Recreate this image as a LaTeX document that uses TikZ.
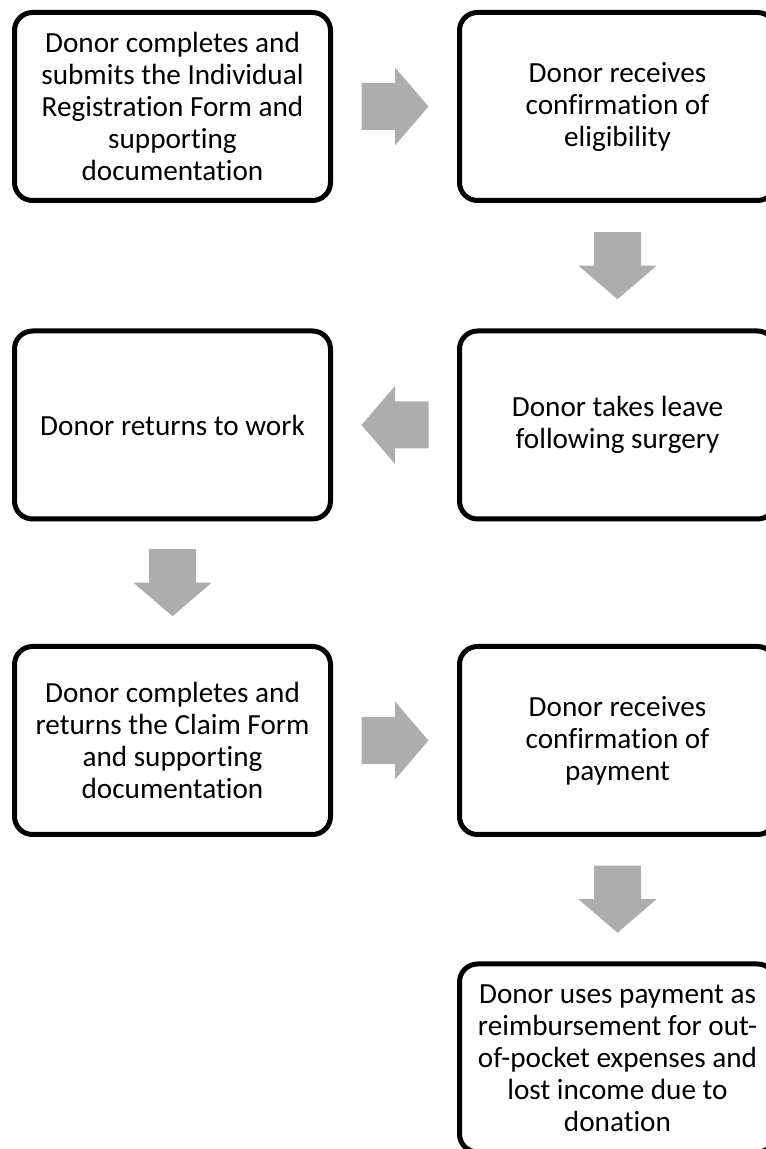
\documentclass[tikz,border=0pt]{standalone}
\usepackage{fontspec}
\setmainfont{Carlito}[Ligatures=NoCommon]
\usetikzlibrary{calc}

\definecolor{arrowgray}{RGB}{173,173,173}

\tikzset{
  stepbox/.style={draw=black, line width=5pt, rounded corners=18pt,
    minimum width=316pt, minimum height=188pt, inner sep=0pt,
    align=center, font=\fontsize{29.2}{32}\selectfont},
  pics/blockarrow/.style={code={
    \fill[arrowgray] (-33.5,-23.5) -- (0,-23.5) -- (0,-39) -- (33.5,0)
      -- (0,39) -- (0,23.5) -- (-33.5,23.5) -- cycle;}}
}

\begin{document}
\begin{tikzpicture}[x=1pt, y=1pt]

\clip (0,0) rectangle (766,1149);

% Steps
\node[stepbox] (register) at (172.5,1042.5)
  {Donor completes and\\submits the Individual\\Registration Form and\\supporting\\documentation};
\node[stepbox] (eligible) at (617.5,1042.5)
  {Donor receives\\confirmation of\\eligibility};
\node[stepbox] (leave) at (617.5,724)
  {Donor takes leave\\following surgery};
\node[stepbox] (work) at (172.5,724)
  {Donor returns to work};
\node[stepbox] (claim) at (172.5,408.5)
  {Donor completes and\\returns the Claim Form\\and supporting\\documentation};
\node[stepbox] (payment) at (617.5,408.5)
  {Donor receives\\confirmation of\\payment};
\node[stepbox] (reimburse) at (617.5,91)
  {Donor uses payment as\\reimbursement for out-\\of-pocket expenses and\\lost income due to\\donation};

% Block arrows
\pic at ($(register.east)!0.5!(eligible.west)$) {blockarrow};
\pic[rotate=-90] at ($(eligible.south)!0.5!(leave.north)$) {blockarrow};
\pic[rotate=180] at ($(leave.west)!0.5!(work.east)$) {blockarrow};
\pic[rotate=-90] at ($(work.south)!0.5!(claim.north)$) {blockarrow};
\pic at ($(claim.east)!0.5!(payment.west)$) {blockarrow};
\pic[rotate=-90] at ($(payment.south)!0.5!(reimburse.north)$) {blockarrow};

\end{tikzpicture}
\end{document}
